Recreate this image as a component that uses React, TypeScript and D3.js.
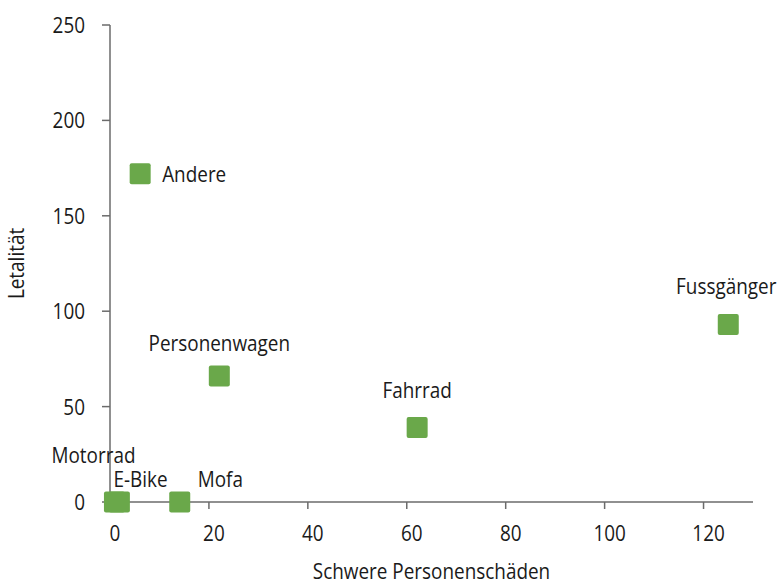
import React from "react";
import * as d3 from "d3";

const categories = ["Andere", "Personenwagen", "Fahrrad", "Fussgänger", "Motorrad", "E-Bike", "Mofa"];
const schwerePersonenschaeden = [6.1, 22.1, 62.1, 125, 0.9, 1.9, 14.1];
const letalitaet = [172, 66, 39, 93, 0, 0, 0];
const xTicks = [0, 20, 40, 60, 80, 100, 120];
const yTicks = [0, 50, 100, 150, 200, 250];
const xTitle = "Schwere Personenschäden";
const yTitle = "Letalität";

// label placement per category (layout only)
const labelLayout: Record<string, { dx: number; dy: number; anchor: string }> = {
  Andere: { dx: 22, dy: 8, anchor: "start" },
  Personenwagen: { dx: 0, dy: -25, anchor: "middle" },
  Fahrrad: { dx: 0, dy: -30, anchor: "middle" },
  "Fussgänger": { dx: -2, dy: -31, anchor: "middle" },
  Motorrad: { dx: -21, dy: -39, anchor: "middle" },
  "E-Bike": { dx: -6, dy: -15, anchor: "start" },
  Mofa: { dx: 18, dy: -15, anchor: "start" },
};

const W = 782;
const H = 585;
const FONT = "'Open Sans', sans-serif";
const TEXT = "#1a1a1a";
const AXIS = "#6b6b6b";
const GREEN = "#6aa84a";
const FS = 22;
const SX = 0.86;

function T({ x, y, anchor = "start", rotate = 0, children }: any) {
  return (
    <text
      transform={`translate(${x},${y}) rotate(${rotate}) scale(${SX},1)`}
      textAnchor={anchor}
      fontFamily={FONT}
      fontSize={FS}
      fill={TEXT}
    >
      {children}
    </text>
  );
}

export default function App() {
  const x = d3.scaleLinear().domain([0, 130]).range([110, 753]);
  const y = d3.scaleLinear().domain([0, 250]).range([502, 25]);
  const size = 21;
  const points = categories.map((c, i) => ({ c, x: schwerePersonenschaeden[i], y: letalitaet[i] }));

  return (
    <svg width={W} height={H} style={{ position: "absolute", left: 0, top: 0, background: "#fff" }}>
      {/* axes */}
      <line x1={x(0)} x2={x(0)} y1={y(250)} y2={y(0)} stroke={AXIS} strokeWidth={1.5} />
      <line x1={x(0)} x2={x(130)} y1={y(0)} y2={y(0)} stroke={AXIS} strokeWidth={1.5} />
      {yTicks.map((t) => (
        <g key={"y" + t}>
          <line x1={x(0) - 8} x2={x(0)} y1={y(t)} y2={y(t)} stroke={AXIS} strokeWidth={1.5} />
          <T x={85} y={y(t) + 8} anchor="end">
            {t}
          </T>
        </g>
      ))}
      {xTicks.map((t) => (
        <g key={"x" + t}>
          <line x1={x(t)} x2={x(t)} y1={y(0)} y2={y(0) + 7} stroke={AXIS} strokeWidth={1.5} />
          <T x={x(t) + 5} y={541} anchor="middle">
            {t}
          </T>
        </g>
      ))}
      <T x={(x(0) + x(130)) / 2} y={579} anchor="middle">
        {xTitle}
      </T>
      <T x={24} y={(y(0) + y(250)) / 2} anchor="middle" rotate={-90}>
        {yTitle}
      </T>
      {/* points */}
      {points.map((p) => (
        <rect
          key={p.c}
          x={x(p.x) - size / 2}
          y={y(p.y) - size / 2}
          width={size}
          height={size}
          rx={2}
          fill={GREEN}
        />
      ))}
      {points.map((p) => {
        const l = labelLayout[p.c];
        return (
          <T key={"l" + p.c} x={x(p.x) + l.dx} y={y(p.y) + l.dy} anchor={l.anchor}>
            {p.c}
          </T>
        );
      })}
    </svg>
  );
}
